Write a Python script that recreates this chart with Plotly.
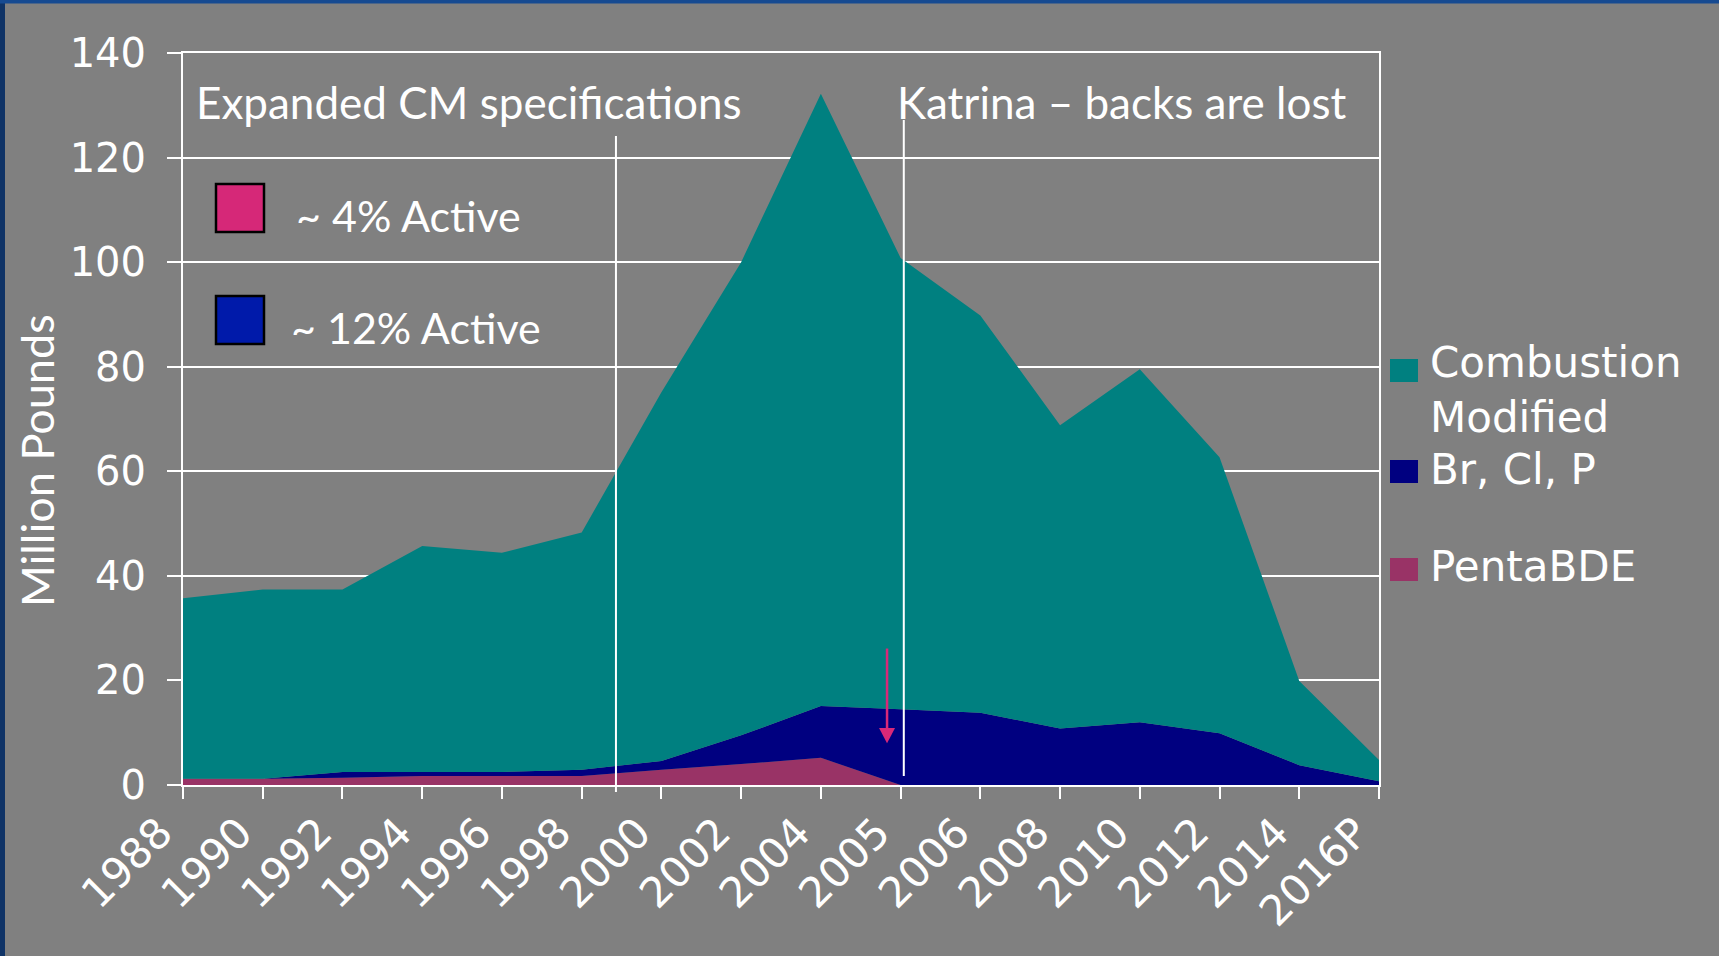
import plotly.graph_objects as go

# ---------------- data ----------------
years = ["1988", "1990", "1992", "1994", "1996", "1998", "2000", "2002",
         "2004", "2005", "2006", "2008", "2010", "2012", "2014", "2016P"]
penta_bde = [1.2, 1.2, 1.4, 1.7, 1.7, 1.7, 2.9, 4.0, 5.2, 0, 0, 0, 0, 0, 0, 0]
br_cl_p = [0, 0, 1.1, 0.8, 0.8, 1.2, 1.7, 5.5, 9.9, 14.5, 13.8, 10.8, 12.0, 9.9, 3.8, 0.7]
combustion_modified = [34.5, 36.2, 34.9, 43.2, 41.9, 45.4, 70.5, 90.5, 117.1, 86.3,
                       76.0, 58.0, 67.5, 52.8, 16.1, 4.1]
y_ticks = [0, 20, 40, 60, 80, 100, 120, 140]

series_names = ["PentaBDE", "Br, Cl, P", "Combustion Modified"]
series_colors = ["#993366", "#000080", "#008080"]

# ---------------- geometry ----------------
W, H = 1719, 956
ML, MR, MT, MB = 183, 340, 53, 171
PW, PH = W - ML - MR, H - MT - MB


def px(x):
    return (x - ML) / PW


def py(y):
    return (H - MB - y) / PH


BG = "#808080"
WHITE = "white"

fig = go.Figure()
for name, vals, col in zip(series_names, [penta_bde, br_cl_p, combustion_modified], series_colors):
    fig.add_trace(go.Scatter(
        x=years, y=vals, name=name, stackgroup="one", mode="none",
        fillcolor=col, line=dict(width=0), showlegend=False,
    ))

shapes = []
annotations = []

# page edge strips
shapes.append(dict(type="rect", xref="paper", yref="paper", x0=px(0), x1=px(5), y0=py(0), y1=py(H),
                   fillcolor="#0F3366", line=dict(width=0), layer="above"))
shapes.append(dict(type="rect", xref="paper", yref="paper", x0=px(0), x1=px(W), y0=py(3.5), y1=py(0),
                   fillcolor="#164A91", line=dict(width=0), layer="above"))

# vertical marker lines
shapes.append(dict(type="line", xref="x", yref="paper", x0=5.43, x1=5.43, y0=py(792), y1=py(136),
                   line=dict(color=WHITE, width=2), layer="above"))
shapes.append(dict(type="line", xref="x", yref="paper", x0=9.04, x1=9.04, y0=py(776), y1=py(120),
                   line=dict(color=WHITE, width=2), layer="above"))

# pink arrow
ARROW = "#D92878"
shapes.append(dict(type="line", xref="x", yref="y", x0=8.83, x1=8.83, y0=26.1, y1=10.5,
                   line=dict(color=ARROW, width=2.5), layer="above"))
shapes.append(dict(type="path", xref="x", yref="y", path="M 8.73,10.9 L 8.93,10.9 L 8.83,8.0 Z",
                   fillcolor=ARROW, line=dict(width=0), layer="above"))

# active-ingredient swatches
shapes.append(dict(type="rect", xref="paper", yref="paper", x0=px(216), x1=px(264), y0=py(232), y1=py(184),
                   fillcolor="#D62878", line=dict(color="black", width=2.5), layer="above"))
shapes.append(dict(type="rect", xref="paper", yref="paper", x0=px(216), x1=px(264), y0=py(344), y1=py(296),
                   fillcolor="#001AAA", line=dict(color="black", width=2.5), layer="above"))

TXT = "Lato, 'Open Sans', sans-serif"
annotations.append(dict(xref="paper", yref="paper", x=px(194), y=py(102), xanchor="left", yanchor="middle",
                        text="Expanded CM specifications", showarrow=False,
                        font=dict(family=TXT, size=44, color=WHITE)))
annotations.append(dict(xref="paper", yref="paper", x=px(895), y=py(102), xanchor="left", yanchor="middle",
                        text="Katrina \u2013 backs are lost", showarrow=False,
                        font=dict(family=TXT, size=44, color=WHITE)))
annotations.append(dict(xref="paper", yref="paper", x=px(294), y=py(215), xanchor="left", yanchor="middle",
                        text="~ 4% Active", showarrow=False,
                        font=dict(family=TXT, size=43, color=WHITE)))
annotations.append(dict(xref="paper", yref="paper", x=px(289), y=py(327), xanchor="left", yanchor="middle",
                        text="~ 12% Active", showarrow=False,
                        font=dict(family=TXT, size=43, color=WHITE)))
annotations.append(dict(xref="paper", yref="paper", x=px(37), y=py(461), xanchor="center", yanchor="middle",
                        text="Million Pounds", textangle=-90, showarrow=False,
                        font=dict(family=TXT, size=45, color=WHITE)))

# manual legend
LEG = "'DejaVu Sans', Verdana, sans-serif"
legend_rows = [
    (series_colors[2], 359, "Combustion<br>Modified", 390),
    (series_colors[1], 460, "Br, Cl, P", 469),
    (series_colors[0], 558, "PentaBDE", 566.5),
]
for col, top, label, center in legend_rows:
    shapes.append(dict(type="rect", xref="paper", yref="paper", x0=px(1390), x1=px(1418),
                       y0=py(top + 23), y1=py(top), fillcolor=col, line=dict(width=0)))
    annotations.append(dict(xref="paper", yref="paper", x=px(1428), y=py(center), xanchor="left",
                            yanchor="middle", align="left", text=label, showarrow=False,
                            font=dict(family=LEG, size=42, color=WHITE)))

fig.update_layout(
    width=W, height=H,
    margin=dict(l=ML, r=MR, t=MT, b=MB, pad=0),
    paper_bgcolor=BG, plot_bgcolor=BG,
    shapes=shapes, annotations=annotations,
    showlegend=False,
    xaxis=dict(
        type="category", categoryorder="array", categoryarray=years,
        range=[0, len(years) - 1], showgrid=False, zeroline=False,
        showline=True, linecolor=WHITE, linewidth=2, mirror=True,
        ticks="outside", ticklen=12, tickwidth=2, tickcolor=WHITE,
        tickangle=-45, ticklabelshift=-23, ticklabelstandoff=-8,
        tickfont=dict(family=LEG, size=42, color=WHITE),
    ),
    yaxis=dict(
        range=[0, 140], tickvals=y_ticks, showgrid=True, gridcolor=WHITE, gridwidth=2,
        zeroline=False, showline=True, linecolor=WHITE, linewidth=2, mirror=True,
        ticks="outside", ticklen=14, tickwidth=2, tickcolor=WHITE,
        ticklabelstandoff=13,
        tickfont=dict(family=LEG, size=40, color=WHITE),
    ),
)

fig.write_html("out.html", config={"displayModeBar": False},
               post_script="document.body.style.margin='0';")
